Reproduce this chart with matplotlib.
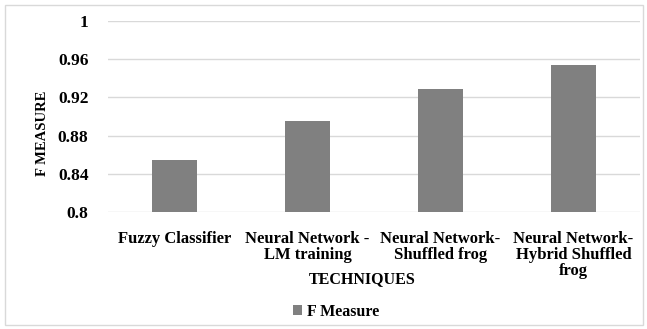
import matplotlib.pyplot as plt
from matplotlib.patches import Rectangle

techniques = ["Fuzzy Classifier", "Neural Network -\nLM training",
              "Neural Network-\nShuffled frog", "Neural Network-\nHybrid Shuffled\nfrog"]
f_measure = [0.854, 0.895, 0.929, 0.954]
yticks = [0.8, 0.84, 0.88, 0.92, 0.96, 1.0]
ytick_labels = ["0.8", "0.84", "0.88", "0.92", "0.96", "1"]

plt.rcParams['font.family'] = ['Liberation Serif', 'DejaVu Serif']

fig = plt.figure(figsize=(6.47, 3.29), dpi=100)
ax = fig.add_axes([0.167, 0.356, 0.822, 0.58])

x = list(range(len(techniques)))
ax.bar(x, f_measure, width=0.34, color='#808080', label='F Measure', zorder=3)
ax.set_xlim(-0.5, len(techniques) - 0.5)
ax.set_ylim(0.8, 1.0)
ax.set_yticks(yticks)
ax.set_yticklabels(ytick_labels, fontsize=12.5, fontweight='bold')
ax.set_xticks(x)
ax.set_xticklabels(techniques, fontsize=12, fontweight='bold', linespacing=1.0, va='top')
ax.tick_params(axis='y', length=0, pad=14)
ax.tick_params(axis='x', length=0, pad=14)
ax.grid(axis='y', color='#d9d9d9', linewidth=1, zorder=0)
for s in ax.spines.values():
    s.set_visible(False)

fig.text(42 / 647, 1 - 133 / 329, "F MEASURE", rotation=90, ha='center', va='center',
         fontsize=10.5, fontweight='bold')
fig.text(362 / 647, 1 - 279 / 329, "TECHNIQUES", ha='center', va='center',
         fontsize=11.5, fontweight='bold')

fig.legend(loc='center', bbox_to_anchor=(336 / 647, 1 - 312 / 329), frameon=False,
           prop={'size': 11.5, 'weight': 'bold'}, handlelength=0.6, handleheight=0.6,
           handletextpad=0.3)

fig.patches.append(Rectangle((5 / 647, 4 / 329), 638 / 647, 320 / 329, transform=fig.transFigure,
                             fill=False, edgecolor='#d9d9d9', linewidth=1))

fig.savefig("out.png", dpi=100)
